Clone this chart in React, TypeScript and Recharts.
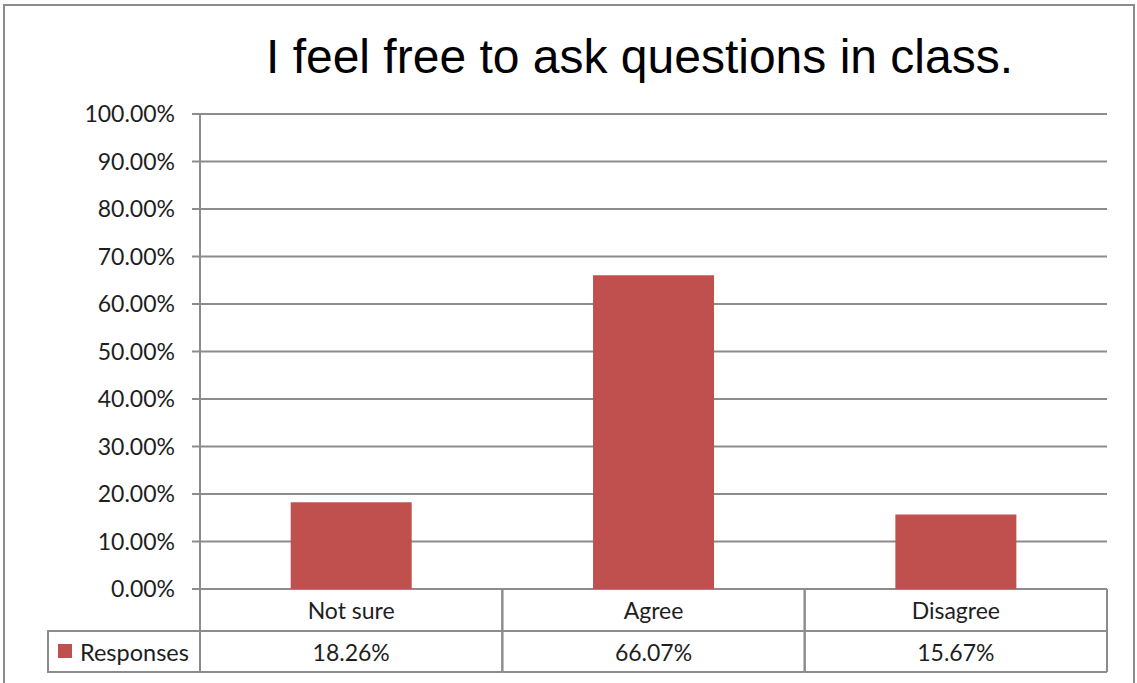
import React from "react";
import { BarChart, Bar, XAxis, YAxis, CartesianGrid } from "recharts";

const categories = ["Not sure", "Agree", "Disagree"];
const responses = [0.1826, 0.6607, 0.1567];
const yTicks = [0, 0.1, 0.2, 0.3, 0.4, 0.5, 0.6, 0.7, 0.8, 0.9, 1];
const seriesName = "Responses";
const title = "I feel free to ask questions in class.";

const data = categories.map((name, i) => ({ name, value: responses[i] }));

const CHART_W = 1137;
const CHART_H = 683;
const PLOT_LEFT = 200;
const PLOT_RIGHT = 1107;
const BAND = (PLOT_RIGHT - PLOT_LEFT) / categories.length;
const ROW1 = 42;
const ROW2 = 41;
const LEGEND_W = 152;
const LINE = "#8c8c8c";
const BAR = "#C0504D";
const TEXT = "#1e1e1e";
const FONT = "Lato, 'Liberation Sans', sans-serif";

const pct = (v: number) => `${(v * 100).toFixed(2)}%`;

// data table under the plot, drawn one column per tick
const TableTick = (props: any) => {
  const { x, y, payload } = props;
  const i = payload.index;
  const left = x - BAND / 2;
  const right = x + BAND / 2;
  const bottom = y + ROW1 + ROW2;
  return (
    <g>
      <line x1={left} y1={y} x2={left} y2={bottom} stroke={LINE} strokeWidth={2} />
      <line x1={right} y1={y} x2={right} y2={bottom} stroke={LINE} strokeWidth={2} />
      <line x1={left} y1={y + ROW1} x2={right} y2={y + ROW1} stroke={LINE} strokeWidth={2} />
      <line x1={left} y1={bottom} x2={right} y2={bottom} stroke={LINE} strokeWidth={2} />
      <text x={x} y={y + ROW1 / 2} textAnchor="middle" dominantBaseline="central" fill={TEXT} fontSize={23} fontFamily={FONT}>
        {payload.value}
      </text>
      <text x={x} y={y + ROW1 + ROW2 / 2} textAnchor="middle" dominantBaseline="central" fill={TEXT} fontSize={23} fontFamily={FONT}>
        {pct(data[i].value)}
      </text>
      {i === 0 && (
        <g>
          <rect x={left - LEGEND_W} y={y + ROW1} width={LEGEND_W} height={ROW2} fill="none" stroke={LINE} strokeWidth={2} />
          <rect x={left - LEGEND_W + 10} y={y + ROW1 + 13} width={14} height={14} fill={BAR} />
          <text x={left - LEGEND_W + 32} y={y + ROW1 + ROW2 / 2} dominantBaseline="central" fill={TEXT} fontSize={23.5} fontFamily={FONT}>
            {seriesName}
          </text>
        </g>
      )}
    </g>
  );
};

export default function App() {
  return (
    <div style={{ position: "absolute", left: 0, top: 0, width: CHART_W, height: CHART_H, background: "#fff", overflow: "hidden" }}>
      <div style={{ position: "absolute", left: 3, top: 4, width: 1128, height: 700, border: `2px solid ${LINE}` }} />
      <div
        style={{
          position: "absolute",
          left: 0,
          width: 1279,
          top: 33,
          textAlign: "center",
          fontFamily: "'Liberation Sans', Arial, sans-serif",
          fontSize: 48,
          lineHeight: "48px",
          color: "#000",
          whiteSpace: "nowrap",
        }}
      >
        {title}
      </div>
      <BarChart
        width={CHART_W}
        height={CHART_H}
        data={data}
        margin={{ top: 114, right: CHART_W - PLOT_RIGHT, left: 0, bottom: 11 }}
        barCategoryGap="30%"
      >
        <CartesianGrid vertical={false} stroke={LINE} strokeWidth={2} />
        <YAxis
          width={PLOT_LEFT}
          domain={[0, 1]}
          ticks={yTicks}
          tickFormatter={pct}
          interval={0}
          stroke={LINE}
          strokeWidth={2}
          tickSize={8}
          tickMargin={17}
          tick={{ fill: TEXT, fontSize: 23, fontFamily: FONT }}
        />
        <XAxis
          dataKey="name"
          height={ROW1 + ROW2}
          axisLine={false}
          tickLine={false}
          tickSize={0}
          tickMargin={0}
          interval={0}
          tick={<TableTick />}
        />
        <Bar dataKey="value" name={seriesName} fill={BAR} isAnimationActive={false} />
      </BarChart>
    </div>
  );
}
